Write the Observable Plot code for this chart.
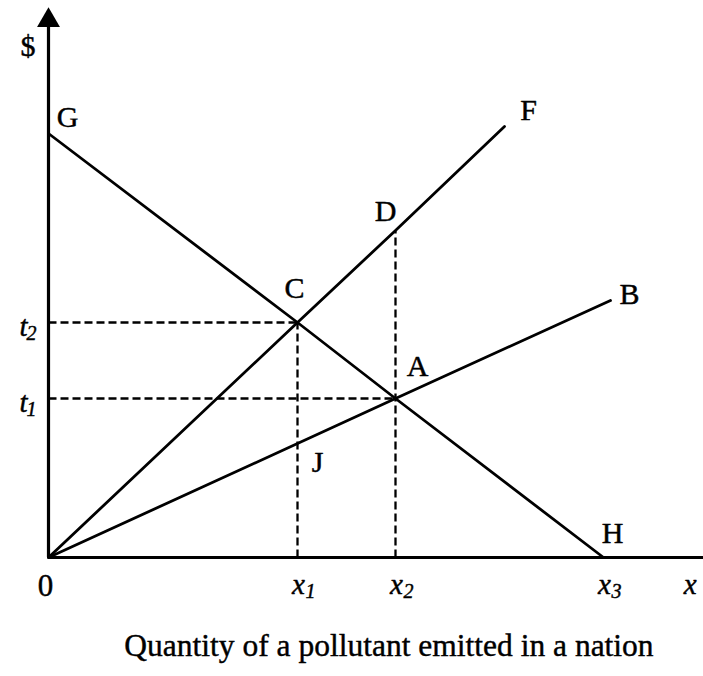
<!DOCTYPE html>
<html><head><meta charset="utf-8">
<script src="https://cdn.jsdelivr.net/npm/d3@7"></script>
<script src="https://cdn.jsdelivr.net/npm/@observablehq/plot@0.6"></script>
<style>
body{margin:0;background:#fff;font-family:"Liberation Serif","Times New Roman",serif;}
#cap{font-size:31.5px;padding-left:75px;width:628px;text-align:center;margin-top:17px;line-height:38px;color:#000;-webkit-text-stroke:0.4px #000}
svg{display:block}
</style></head><body>
<div id="chart"></div>
<div id="cap">Quantity of a pollutant emitted in a nation</div>
<script>
// Labelled points (data units)
const pointNames = ["G", "C", "D", "F", "A", "B", "J", "H"];
const pointX = [0, 2.49, 3.47, 4.56, 3.47, 5.62, 2.49, 5.55];
const pointY = [4.24, 2.35, 3.27, 4.31, 1.59, 2.57, 1.14, 0];
// Curves through the points (O = origin)
const curves = [["O", "C", "D", "F"], ["O", "J", "A", "B"], ["G", "C", "A", "H"]];
// Dashed guides
const hGuides = ["C", "A"];   // from y axis to point
const vGuides = ["C", "D"];   // from x axis to point
// Tick labels
const xTickValues = [2.49, 3.47, 5.55];
const xTickSubs = ["1", "2", "3"];
const yTickValues = [2.35, 1.59];
const yTickSubs = ["2", "1"];
const xMax = 6.55, yMax = 5.57, yAxisTop = 5.45, arrowY = 5.37;

const P = Object.fromEntries(pointNames.map((n, i) => [n, {name: n, x: pointX[i], y: pointY[i]}]));
P.O = {name: "O", x: 0, y: 0};
const curveData = curves.flatMap((c, k) => c.map(n => ({...P[n], curve: k})));
const offsets = {G: [19, -16], F: [24, -16], B: [19, -6], C: [-3, -34], A: [22, -32], J: [20, 19], D: [-10, -19], H: [9, -24]};

const txt = {fill: "black", stroke: "black", strokeWidth: 0.45, fontFamily: "Liberation Serif"};

const svg = Plot.plot({
  width: 703, height: 610,
  marginLeft: 48, marginRight: 0, marginTop: 0, marginBottom: 53,
  x: {domain: [0, xMax], axis: null},
  y: {domain: [0, yMax], axis: null},
  style: {fontFamily: "Liberation Serif", color: "black", background: "white", overflow: "visible"},
  marks: [
    Plot.link(hGuides.map(n => P[n]), {x1: 0, y1: "y", x2: "x", y2: "y", stroke: "black", strokeWidth: 2.3, strokeDasharray: "8,4"}),
    Plot.link(vGuides.map(n => P[n]), {x1: "x", y1: 0, x2: "x", y2: "y", stroke: "black", strokeWidth: 2.3, strokeDasharray: "8,4"}),
    Plot.line(curveData, {x: "x", y: "y", z: "curve", stroke: "black", strokeWidth: 2.8}),
    Plot.ruleY([0], {x1: 0, x2: xMax, stroke: "black", strokeWidth: 3.2}),
    Plot.ruleX([0], {y1: 0, y2: yAxisTop, stroke: "black", strokeWidth: 3.2}),
    Plot.dot([{x: 0, y: arrowY}], {x: "x", y: "y", symbol: "triangle", r: 8.5, fill: "black", stroke: "none"}),
    ...pointNames.map(n => Plot.text([P[n]], {x: "x", y: "y", text: "name", dx: offsets[n][0], dy: offsets[n][1], fontSize: 30, ...txt})),
    // x tick labels
    Plot.text(xTickValues, {x: d => d, y: 0, text: () => "x", fontStyle: "italic", fontSize: 29, lineAnchor: "bottom", dx: 1, dy: 36, ...txt}),
    Plot.text(xTickValues, {x: d => d, y: 0, text: (d, i) => xTickSubs[i], fontStyle: "italic", fontSize: 20, textAnchor: "start", lineAnchor: "bottom", dx: 8, dy: 40, ...txt}),
    // y tick labels
    Plot.text(yTickValues, {x: 0, y: d => d, text: () => "t", fontStyle: "italic", fontSize: 29, textAnchor: "end", lineAnchor: "bottom", dx: -21, dy: 13, ...txt}),
    Plot.text(yTickValues, {x: 0, y: d => d, text: (d, i) => yTickSubs[i], fontStyle: "italic", fontSize: 20, textAnchor: "start", lineAnchor: "bottom", dx: -22, dy: 17, ...txt}),
    Plot.text(["0"], {x: 0, y: 0, text: d => d, fontSize: 31, lineAnchor: "bottom", dx: -3, dy: 38, ...txt}),
    Plot.text(["x"], {frameAnchor: "bottom-right", text: d => d, fontStyle: "italic", fontSize: 29, lineAnchor: "bottom", dx: -7, dy: 36, ...txt}),
    Plot.text(["$"], {frameAnchor: "top-left", text: d => d, fontSize: 30, lineAnchor: "middle", dx: -28, dy: 46, ...txt})
  ]
});
document.getElementById("chart").appendChild(svg);
</script>
</body></html>
